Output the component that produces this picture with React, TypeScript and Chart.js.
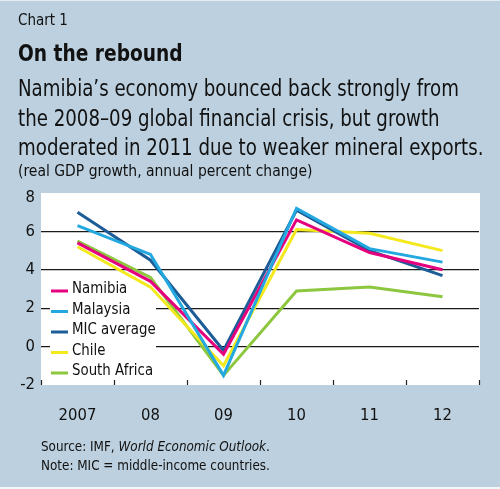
import React, { useEffect, useRef } from "react";
import { Chart, registerables } from "chart.js";

Chart.register(...registerables);

const years = ["2007", "08", "09", "10", "11", "12"];
const namibia = [5.4, 3.4, -0.4, 6.6, 4.9, 4.0];
const malaysia = [6.3, 4.8, -1.5, 7.2, 5.1, 4.4];
const micAverage = [7.0, 4.5, -0.2, 7.1, 5.0, 3.7];
const chile = [5.2, 3.1, -1.0, 6.1, 5.9, 5.0];
const southAfrica = [5.5, 3.6, -1.5, 2.9, 3.1, 2.6];
const seriesNames = ["Namibia", "Malaysia", "MIC average", "Chile", "South Africa"];
const seriesData = [namibia, malaysia, micAverage, chile, southAfrica];
const seriesColors = ["#e5007e", "#23a8e0", "#1c5c97", "#f3e91c", "#8dc63f"];
const seriesOrder = [1, 0, 2, 3, 4];
const yMin = -2;
const yMax = 8;
const yStep = 2;

const FONT = "'Liberation Sans Narrow', 'Arial Narrow', 'DejaVu Sans Condensed', sans-serif";
const BG = "#bcd0df";

const W = 500;
const H = 489;
const PLOT_TOP = 193;
const PLOT_BOTTOM = 385;
const PLOT_LEFT = 41;
const PLOT_RIGHT = 479;
const X_AXIS_H = 40;

const plotBgPlugin = {
  id: "plotBg",
  beforeDraw(chart: any) {
    const { ctx, chartArea } = chart;
    ctx.save();
    ctx.fillStyle = "#ffffff";
    ctx.fillRect(chartArea.left, chartArea.top, chartArea.right - chartArea.left + 1, chartArea.bottom - chartArea.top);
    ctx.restore();
  },
};

const legendPlugin = {
  id: "customLegend",
  beforeDatasetsDraw(chart: any) {
    const { ctx, chartArea } = chart;
    const x0 = chartArea.left + 9;
    const yStart = 289;
    const step = 20.5;
    ctx.save();
    ctx.fillStyle = "#ffffff";
    ctx.fillRect(x0, 280, 156 - x0, 102);
    ctx.font = `16.5px ${FONT}`;
    ctx.textBaseline = "middle";
    ctx.textAlign = "left";
    seriesNames.forEach((name, i) => {
      const y = yStart + i * step;
      ctx.strokeStyle = seriesColors[i];
      ctx.lineWidth = 3;
      ctx.beginPath();
      ctx.moveTo(x0 + 1, y + 2);
      ctx.lineTo(x0 + 18, y + 2);
      ctx.stroke();
      ctx.save();
      ctx.translate(x0 + 22, y);
      ctx.scale(0.9, 1);
      ctx.fillStyle = "#111111";
      ctx.fillText(name, 0, 0);
      ctx.restore();
    });
    ctx.restore();
  },
  afterDraw(chart: any) {
    const { ctx, chartArea, scales } = chart;
    const n = years.length;
    const w = (chartArea.right - chartArea.left) / n;
    ctx.save();
    ctx.strokeStyle = "#222222";
    ctx.lineWidth = 1.2;
    for (let i = 0; i <= n; i++) {
      const x = Math.round(chartArea.left + i * w) + 0.5;
      ctx.beginPath();
      ctx.moveTo(x, chartArea.bottom - 5);
      ctx.lineTo(x, chartArea.bottom);
      ctx.stroke();
    }
    // top tick label sits just below the plot's top edge
    ctx.font = `16.5px ${FONT}`;
    ctx.fillStyle = "#111111";
    ctx.textAlign = "right";
    ctx.textBaseline = "middle";
    ctx.fillText(String(yMax), chartArea.left - 6, scales.y.getPixelForValue(yMax) + 5);
    ctx.restore();
  },
};

function ChartCanvas() {
  const ref = useRef<HTMLCanvasElement | null>(null);
  useEffect(() => {
    if (!ref.current) return;
    const chart = new Chart(ref.current, {
      type: "line",
      data: {
        labels: years,
        datasets: seriesNames.map((name, i) => ({
          label: name,
          data: seriesData[i],
          borderColor: seriesColors[i],
          backgroundColor: seriesColors[i],
          borderWidth: 3,
          pointRadius: 0,
          tension: 0,
          fill: false,
          order: seriesOrder[i],
        })),
      },
      options: {
        animation: false,
        responsive: false,
        maintainAspectRatio: false,
        layout: {
          padding: {
            left: 0,
            right: W - PLOT_RIGHT,
            top: PLOT_TOP,
            bottom: H - PLOT_BOTTOM - X_AXIS_H,
          },
        },
        plugins: {
          legend: { display: false },
          tooltip: { enabled: false },
          title: { display: false },
        },
        scales: {
          x: {
            type: "category",
            offset: true,
            grid: { display: false, drawTicks: false },
            border: { display: false },
            ticks: {
              color: "#111111",
              font: { family: FONT, size: 16.5 },
              padding: 21,
              maxRotation: 0,
              autoSkip: false,
            },
            afterFit(scale: any) {
              scale.height = X_AXIS_H;
            },
          },
          y: {
            min: yMin,
            max: yMax,
            grid: {
              drawTicks: false,
              lineWidth: 1.2,
              color: (ctx: any) => {
                const v = ctx.tick ? ctx.tick.value : 0;
                return v === yMax || v === yMin ? "rgba(0,0,0,0)" : "#1a1a1a";
              },
            },
            border: { display: false },
            ticks: {
              stepSize: yStep,
              color: "#111111",
              font: { family: FONT, size: 16.5 },
              padding: 6,
              callback: (v: any) => (v === yMax ? "" : String(v)),
            },
            afterFit(scale: any) {
              scale.width = PLOT_LEFT;
            },
          },
        },
      },
      plugins: [plotBgPlugin, legendPlugin],
    });
    return () => chart.destroy();
  }, []);
  return (
    <canvas
      ref={ref}
      width={W}
      height={H}
      style={{ position: "absolute", left: 0, top: 0, width: W, height: H }}
    />
  );
}

function Line({ top, left, size, bold, sx, children }: any) {
  return (
    <div
      style={{
        position: "absolute",
        top,
        left,
        fontFamily: FONT,
        fontSize: size,
        lineHeight: `${size}px`,
        fontWeight: bold ? "bold" : "normal",
        color: "#111111",
        whiteSpace: "nowrap",
        transform: `scaleX(${sx ?? 1})`,
        transformOrigin: "left top",
      }}
    >
      {children}
    </div>
  );
}

export default function App() {
  return (
    <div
      style={{
        position: "fixed",
        left: 0,
        top: 0,
        width: W,
        height: H,
        background: BG,
        overflow: "hidden",
      }}
    >
      <div style={{ position: "absolute", left: 0, top: 0, width: W, height: 1, background: "#e4ecf2" }} />
      <div style={{ position: "absolute", left: 0, top: H - 2, width: W, height: 2, background: "#f4f7fa" }} />
      <ChartCanvas />
      <Line top={13.3} left={18} size={15}>Chart 1</Line>
      <Line top={42} left={18} size={23} bold sx={0.9}>On the rebound</Line>
      <Line top={77} left={18} size={23} sx={0.88}>Namibia’s economy bounced back strongly from</Line>
      <Line top={106.5} left={18} size={23} sx={0.88}>the 2008–09 global financial crisis, but growth</Line>
      <Line top={136} left={18} size={23} sx={0.88}>moderated in 2011 due to weaker mineral exports.</Line>
      <Line top={163.5} left={18} size={15.5}>(real GDP growth, annual percent change)</Line>
      <div
        style={{
          position: "absolute",
          top: 437,
          left: 41,
          fontFamily: FONT,
          fontSize: 14.5,
          lineHeight: "19px",
          color: "#111111",
          whiteSpace: "nowrap",
          transform: "scaleX(0.92)",
          transformOrigin: "left top",
        }}
      >
        <div>
          Source: IMF, <i>World Economic Outlook</i>.
        </div>
        <div>Note: MIC = middle-income countries.</div>
      </div>
    </div>
  );
}
